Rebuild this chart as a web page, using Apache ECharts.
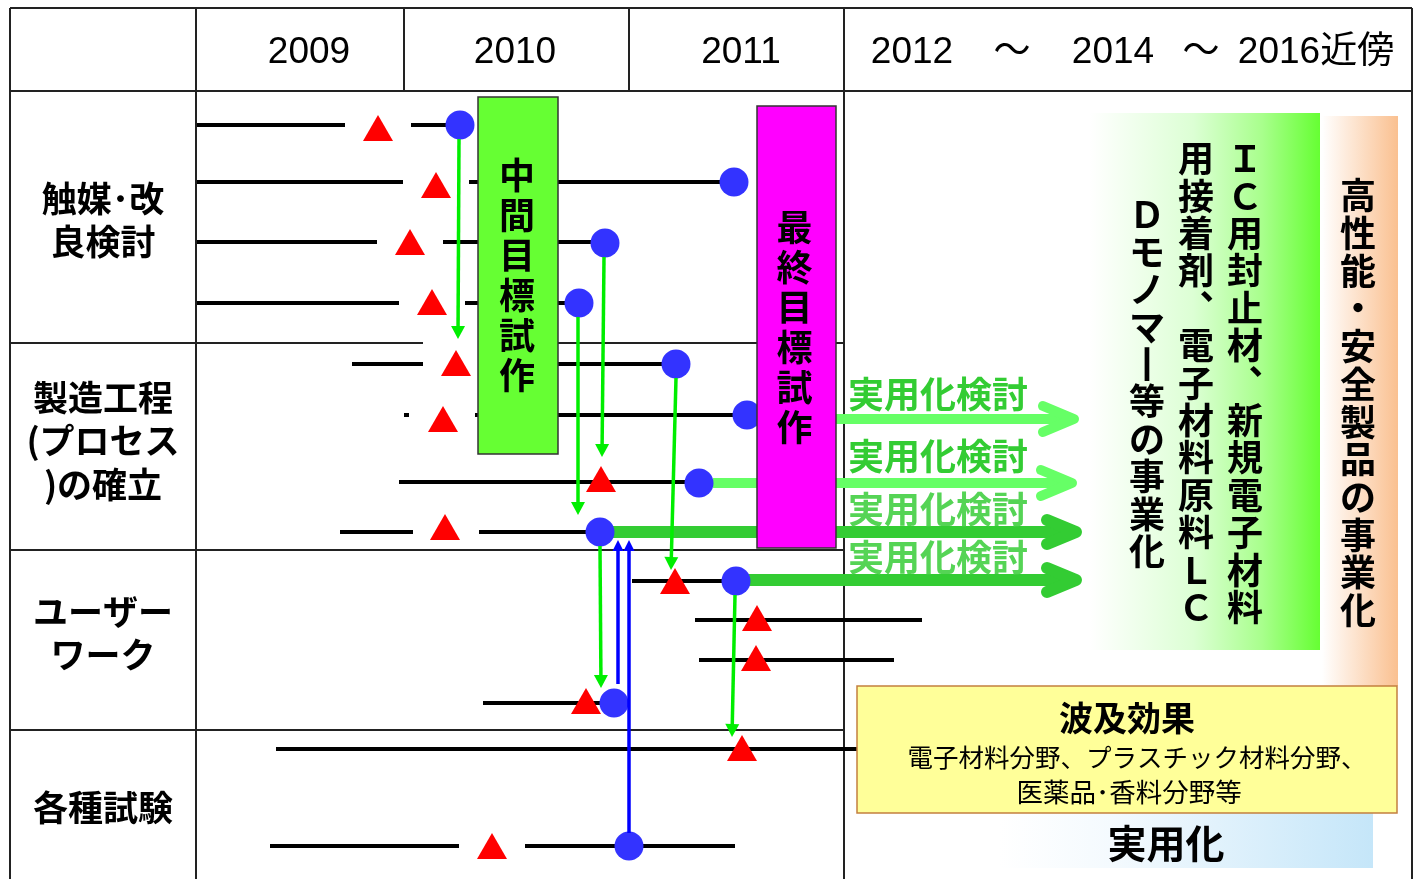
<!DOCTYPE html>
<html>
<head>
<meta charset="utf-8">
<script src="https://cdn.jsdelivr.net/npm/echarts@6/dist/echarts.min.js"></script>
<style>
html,body{margin:0;padding:0;background:#ffffff;}
#chart{width:1418px;height:879px;}
</style>
</head>
<body>
<div id="chart"></div>
<script>
// ================= DATA (schedule units: x = along the timeline, y = down the table) =================
const xRange = [0, 1418];
const yRange = [0, 879];

// table rules: horizontal [xStart, xEnd, y], vertical [x, yStart, yEnd]
const frameH = [[10,1412,8],[10,1412,91],[10,423,343],[558,844,343],[10,844,550],[10,844,730]];
const frameV = [[10,8,879],[196,8,879],[404,8,91],[629,8,91],[844,8,879],[1412,8,879]];

// header (years)
const yearLabels = ['2009','2010','2011','2012','～','2014','～','2016近傍'];
const yearPos = [309,515,741,912,1012,1113,1201,1316];
const yearRow = 53;

// task rows
const taskLabels = ['触媒･改\n良検討','製造工程\n(プロセス\n)の確立','ユーザー\nワーク','各種試験'];
const taskRow = [220,441,633,808];
const taskCol = 103;

// work periods (black bars) [start, end, track]
const workBars = [
  [197,345,125],[411,447,125],
  [197,403,182],[469,734,182],
  [197,377,242],[443,605,242],
  [197,399,303],[465,579,303],
  [352,423,364],[478,676,364],
  [404,409,415],[475,747,415],
  [399,699,482],
  [340,413,532],[479,600,532],
  [632,735,581],
  [695,922,620],
  [699,894,660],
  [483,614,703],
  [276,857,749],
  [270,459,846],[525,735,846]
];

// milestones (red triangles) [x, track]
const milestones = [[378,128],[436,185],[410,242],[432,302],[456,363],[443,419],[601,479],[445,527],
                    [675,581],[757,618],[756,658],[586,701],[742,748],[492,846]];

// achievements (blue circles) [x, track]
const achievements = [[460,125],[734,182],[605,243],[579,303],[676,364],[747,415],[699,483],
                      [600,532],[736,581],[614,703],[629,846]];

// hand-offs (green arrows) [xFrom, yFrom, xTip, yTip]
const handoffs = [[459,139,458,339],[604,257,602,457],[578,317,578,515],
                  [676,378,671,570],[600,546,601,688],[735,595,732,737]];

// feedback (blue arrows) [xFrom, yFrom, xTip, yTip]
const feedbacks = [[618,684,618,540],[629,833,629,540]];

// practical-use arrows [start, tip, track]
const practicalArrows = [[761,1079,419],[713,1077,483],[612,1082,532],[748,1082,580]];
const practicalText = '実用化検討';
const practicalTextRow = [394,456,509,557];
const practicalTextCol = 938;

// prototype milestones [x1, y1, x2, y2]
const prototypeBoxes = [[478,97,558,454],[757,106,836,548]];
const prototypeLabels = ['中間目標試作','最終目標試作'];

// outcome panels [x1, y1, x2, y2]
const businessPanel = [1090,113,1320,650];
const businessColumns = ['ＩＣ用封止材︑新規電子材料','用接着剤︑電子材料原料ＬＣ','Ｄモノマ丨等の事業化'];
const businessColumnPos = [1245,1196,1147];
const businessColumnRow = 383;

const productPanel = [1322,116,1398,686];
const productText = '高性能・安全製品の事業化';
const productTextPos = [1358,403];

const spilloverPanel = [857,686,1397,813];
const spilloverTitle = '波及効果';
const spilloverLines = ['電子材料分野、プラスチック材料分野、','医薬品･香料分野等'];
const spilloverPos = [[1127,718],[1137,757],[1129,792]];

const practicalPanel = [1000,813,1373,868];
const practicalPanelText = '実用化';
const practicalPanelPos = [1166,843];

// ================= STYLES =================
const CJK = '"Noto Sans CJK JP", "Noto Sans", sans-serif';
const LATIN = '"Liberation Sans", "Noto Sans CJK JP", sans-serif';
const arrowColors = ['#66FF66','#66FF66','#33CC33','#33CC33'];
const arrowWidths = [10,10,12,12];
const arrowTextColors = ['#33CC33','#33CC33','#55D455','#55D455'];

function vertical(s){ return Array.from(s).join('\n'); }

function textSeries(items, style, z){
  return {
    type:'custom', z:z, silent:true,
    data: items.map(function(it){ return [it[0], it[1]]; }),
    renderItem: function(params, api){
      const it = items[params.dataIndex];
      const p = api.coord([it[0], it[1]]);
      const st = Object.assign({text: it[2], align:'center', verticalAlign:'middle'}, style, it[3] || {});
      return {type:'text', x:p[0], y:p[1], style: st};
    }
  };
}

function rectSeries(boxes, styles, z){
  return {
    type:'custom', z:z, silent:true,
    data: boxes,
    renderItem: function(params, api){
      const a = api.coord([api.value(0), api.value(1)]);
      const b = api.coord([api.value(2), api.value(3)]);
      return {type:'rect', shape:{x:a[0], y:a[1], width:b[0]-a[0], height:b[1]-a[1]}, style: styles[params.dataIndex]};
    }
  };
}

function arrowSeries(items, color, width, hl, hw, z){
  return {
    type:'custom', z:z, silent:true,
    data: items,
    renderItem: function(params, api){
      const a = api.coord([api.value(0), api.value(1)]);
      const b = api.coord([api.value(2), api.value(3)]);
      const dx = b[0]-a[0], dy = b[1]-a[1], L = Math.hypot(dx, dy);
      const ux = dx/L, uy = dy/L;
      const bx = b[0]-ux*hl, by = b[1]-uy*hl;
      return {type:'group', children:[
        {type:'line', shape:{x1:a[0], y1:a[1], x2:bx+ux*1, y2:by+uy*1}, style:{stroke:color, lineWidth:width}},
        {type:'polygon', shape:{points:[[b[0],b[1]],[bx-uy*hw, by+ux*hw],[bx+uy*hw, by-ux*hw]]}, style:{fill:color}}
      ]};
    }
  };
}

function grad(stops){
  return new echarts.graphic.LinearGradient(0,0,1,0, stops.map(function(s){ return {offset:s[0], color:s[1]}; }));
}

const series = [];

// table frame
series.push({
  type:'custom', z:1, silent:true,
  data: frameH,
  renderItem: function(params, api){
    const a = api.coord([api.value(0), api.value(2)]);
    const b = api.coord([api.value(1), api.value(2)]);
    return {type:'line', shape:{x1:a[0], y1:a[1], x2:b[0], y2:b[1]}, style:{stroke:'#222', lineWidth:2}};
  }
});
series.push({
  type:'custom', z:1, silent:true,
  data: frameV,
  renderItem: function(params, api){
    const a = api.coord([api.value(0), api.value(1)]);
    const b = api.coord([api.value(0), api.value(2)]);
    return {type:'line', shape:{x1:a[0], y1:a[1], x2:b[0], y2:b[1]}, style:{stroke:'#222', lineWidth:2}};
  }
});

// gradient outcome panels
series.push(rectSeries([businessPanel, productPanel, practicalPanel], [
  {fill: grad([[0,'#FFFFFF'],[0.45,'#DCFFD4'],[0.75,'#A8FF8C'],[1,'#66FF33']])},
  {fill: grad([[0,'#FFFFFF'],[1,'#FAC090']])},
  {fill: grad([[0,'#FFFFFF'],[0.3,'#F4FAFE'],[1,'#C5E6F9']])}
], 2));

// work bars
series.push({
  type:'custom', z:3, silent:true,
  data: workBars,
  renderItem: function(params, api){
    const a = api.coord([api.value(0), api.value(2)]);
    const b = api.coord([api.value(1), api.value(2)]);
    return {type:'line', shape:{x1:a[0], y1:a[1], x2:b[0], y2:b[1]}, style:{stroke:'#000', lineWidth:4}};
  }
});

// practical-use arrows
series.push({
  type:'custom', z:4, silent:true,
  data: practicalArrows,
  renderItem: function(params, api){
    const i = params.dataIndex;
    const a = api.coord([api.value(0), api.value(2)]);
    const t = api.coord([api.value(1), api.value(2)]);
    const w = arrowWidths[i], c = arrowColors[i];
    const vx = t[0] - w/2;
    const ex = t[0] - 41 + w/2, ey = 18 - w/2;
    return {type:'group', children:[
      {type:'line', shape:{x1:a[0], y1:a[1], x2:vx, y2:t[1]}, style:{stroke:c, lineWidth:w}},
      {type:'polyline', shape:{points:[[ex, t[1]-ey],[vx, t[1]],[ex, t[1]+ey]]},
       style:{stroke:c, lineWidth:w, lineCap:'round', lineJoin:'round', fill:null}}
    ]};
  }
});

// milestones & achievements
series.push({
  type:'scatter', z:5, silent:true, data: milestones,
  symbol:'triangle', symbolSize:[30,26], itemStyle:{color:'#FF0000', opacity:1}
});
series.push({
  type:'scatter', z:6, silent:true, data: achievements,
  symbol:'circle', symbolSize:29, itemStyle:{color:'#3333FF', opacity:1}
});

// hand-off and feedback arrows
series.push(arrowSeries(handoffs, '#00EE00', 3.5, 13, 7, 7));
series.push(arrowSeries(feedbacks, '#0000FF', 3.5, 11, 5.5, 7));

// prototype boxes
series.push(rectSeries(prototypeBoxes, [
  {fill:'#66FF33', stroke:'#333', lineWidth:1.5},
  {fill:'#FF00FF', stroke:'#333', lineWidth:1.5}
], 8));
series.push(textSeries([
  [(prototypeBoxes[0][0]+prototypeBoxes[0][2])/2 - 1, (prototypeBoxes[0][1]+prototypeBoxes[0][3])/2, vertical(prototypeLabels[0])],
  [(prototypeBoxes[1][0]+prototypeBoxes[1][2])/2 - 2, (prototypeBoxes[1][1]+prototypeBoxes[1][3])/2, vertical(prototypeLabels[1])]
], {fill:'#000', fontFamily:CJK, fontWeight:'bold', fontSize:36, lineHeight:40}, 9));

// spillover panel
series.push(rectSeries([spilloverPanel], [{fill:'#FFFF99', stroke:'#C4803F', lineWidth:1.5}], 8));
series.push(textSeries([
  [spilloverPos[0][0], spilloverPos[0][1], spilloverTitle, {fontWeight:'bold', fontSize:34}],
  [spilloverPos[1][0], spilloverPos[1][1], spilloverLines[0]],
  [spilloverPos[2][0], spilloverPos[2][1], spilloverLines[1], {fontSize:26.5}]
], {fill:'#000', fontFamily:CJK, fontSize:25.5}, 9));

// practical panel text
series.push(textSeries([[practicalPanelPos[0], practicalPanelPos[1], practicalPanelText]],
  {fill:'#000', fontFamily:CJK, fontWeight:'bold', fontSize:39}, 9));

// business columns
series.push(textSeries(businessColumns.map(function(s,i){ return [businessColumnPos[i], businessColumnRow, vertical(s)]; }),
  {fill:'#000', fontFamily:CJK, fontWeight:'bold', fontSize:36, lineHeight:37.4}, 9));
series.push(textSeries([[productTextPos[0], productTextPos[1], vertical(productText)]],
  {fill:'#000', fontFamily:CJK, fontWeight:'bold', fontSize:36, lineHeight:37.7}, 9));

// practical-use labels
series.push(textSeries(practicalTextRow.map(function(y,i){ return [practicalTextCol, y, practicalText, {fill:arrowTextColors[i]}]; }),
  {fontFamily:CJK, fontWeight:'bold', fontSize:36}, 9));

// header years
series.push(textSeries(yearLabels.map(function(s,i){ return [yearPos[i], yearRow, s]; }),
  {fill:'#000', fontFamily:LATIN, fontSize:37}, 9));

// task labels
series.push(textSeries(taskLabels.map(function(s,i){ return [taskCol, taskRow[i], s]; }),
  {fill:'#000', fontFamily:CJK, fontWeight:'bold', fontSize:35, lineHeight:43.5}, 9));

const chart = echarts.init(document.getElementById('chart'), null, {renderer:'canvas'});
chart.setOption({
  animation:false,
  backgroundColor:'#ffffff',
  grid:{left:0, right:0, top:0, bottom:0, containLabel:false},
  xAxis:{type:'value', min:xRange[0], max:xRange[1], show:false},
  yAxis:{type:'value', min:yRange[0], max:yRange[1], inverse:true, show:false},
  series: series
});
</script>
</body>
</html>
